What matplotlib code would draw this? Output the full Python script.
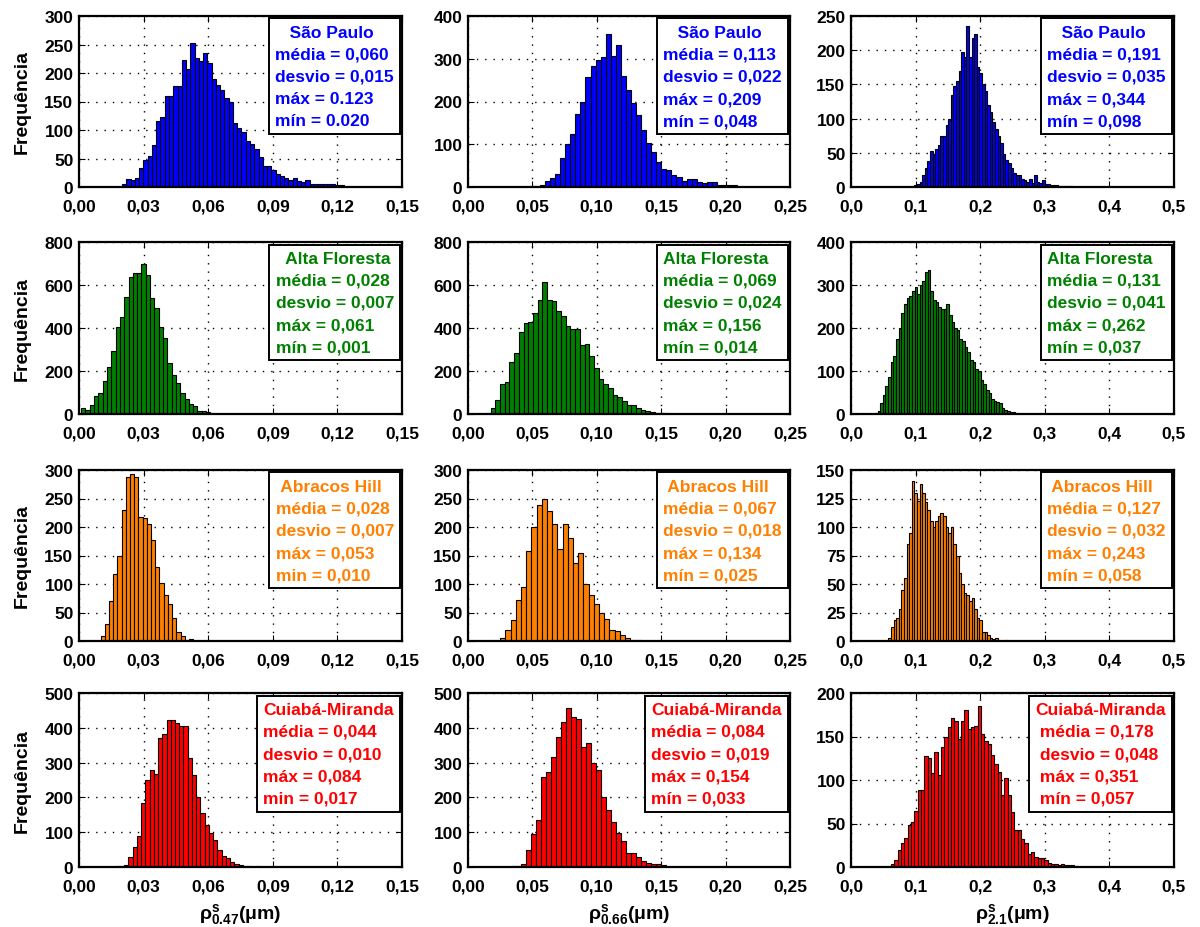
import numpy as np
import matplotlib
matplotlib.use('Agg')
import matplotlib.pyplot as plt

plt.rcParams['font.family'] = ['Liberation Sans', 'DejaVu Sans']
plt.rcParams['font.weight'] = 'bold'
plt.rcParams['mathtext.fontset'] = 'custom'
plt.rcParams['mathtext.rm'] = 'Liberation Sans:bold'
plt.rcParams['mathtext.it'] = 'Liberation Sans:bold'
plt.rcParams['mathtext.bf'] = 'Liberation Sans:bold'

# contagens por classe, do minimo ao maximo
sp_047 = [5, 14, 12, 16, 33, 47, 55, 73, 116, 122, 160, 160, 177, 177, 222, 207, 252, 227, 221,
          235, 217, 190, 179, 171, 156, 150, 112, 104, 96, 80, 75, 67, 52, 36, 36, 30, 23, 20, 15,
          12, 15, 10, 9, 12, 6, 6, 6, 6, 6, 6, 3, 3]
sp_066 = [2, 3, 5, 15, 20, 30, 67, 100, 125, 170, 200, 257, 282, 298, 303, 357, 306, 331, 259,
          227, 196, 169, 133, 102, 81, 59, 42, 39, 27, 24, 13, 19, 19, 12, 9, 12, 12, 5, 4, 4, 4]
sp_21 = [3, 5, 8, 18, 28, 38, 53, 48, 55, 62, 75, 75, 90, 100, 135, 148, 155, 170, 198, 190, 235,
         190, 218, 223, 175, 167, 150, 140, 120, 110, 95, 85, 75, 65, 48, 40, 35, 28, 20, 17, 17,
         12, 10, 8, 12, 6, 17, 8, 6, 10, 5, 5, 3, 3, 3, 2, 2, 2, 1, 1, 1]

af_047 = [28, 20, 40, 85, 100, 155, 220, 295, 405, 450, 545, 635, 655, 655, 700, 645, 540, 495,
          405, 355, 235, 180, 145, 100, 70, 45, 35, 15, 15, 8]
af_066 = [5, 30, 65, 140, 150, 240, 285, 380, 425, 430, 470, 530, 615, 530, 525, 480, 455, 410,
          395, 395, 320, 325, 270, 215, 165, 140, 120, 90, 80, 60, 40, 40, 30, 20, 15, 8, 5, 5, 3]
af_21 = [3, 8, 25, 45, 65, 85, 120, 135, 175, 200, 235, 255, 270, 275, 285, 295, 280, 300, 310,
         330, 335, 285, 265, 260, 250, 245, 245, 255, 230, 215, 200, 195, 175, 170, 155, 145, 125,
         120, 105, 100, 80, 70, 55, 50, 35, 30, 28, 25, 15, 10, 8, 5, 4, 2, 1]

ah_047 = [8, 30, 70, 117, 150, 230, 287, 293, 287, 218, 215, 205, 178, 130, 102, 80, 65, 40, 15,
          8, 2, 3]
ah_066 = [5, 20, 37, 72, 95, 158, 200, 238, 250, 228, 205, 162, 205, 180, 137, 155, 100, 80, 65,
          50, 38, 20, 18, 10, 5, 2, 2]
ah_21 = [3, 12, 18, 20, 28, 45, 55, 85, 95, 140, 130, 123, 138, 130, 122, 115, 105, 100, 105,
         110, 112, 110, 100, 95, 100, 85, 75, 60, 50, 42, 40, 35, 38, 28, 20, 18, 8, 8, 5, 3, 2,
         3, 0, 0, 0, 1]

cm_047 = [3, 3, 5, 30, 58, 88, 185, 250, 280, 268, 370, 382, 423, 423, 413, 405, 405, 312, 265,
          200, 155, 120, 98, 78, 50, 33, 25, 15, 8, 5, 3, 3, 0, 3]
cm_066 = [3, 3, 8, 50, 95, 135, 258, 273, 315, 375, 418, 458, 430, 424, 345, 357, 300, 278, 200,
          163, 128, 98, 75, 40, 40, 28, 18, 12, 8, 10, 5]
cm_21 = [1, 3, 8, 20, 28, 33, 48, 52, 64, 88, 88, 128, 125, 108, 132, 106, 138, 150, 161, 171,
         168, 147, 168, 181, 159, 161, 162, 185, 153, 145, 141, 129, 118, 109, 83, 102, 83, 63, 42,
         42, 32, 28, 15, 17, 11, 10, 10, 8, 5, 4, 3, 2, 3, 2, 2, 2, 1]

stations = ['São Paulo', 'Alta Floresta', 'Abracos Hill', 'Cuiabá-Miranda']
colors = ['#0000FF', '#008000', '#FF8000', '#FF0000']
counts = [[sp_047, sp_066, sp_21],
          [af_047, af_066, af_21],
          [ah_047, ah_066, ah_21],
          [cm_047, cm_066, cm_21]]

# estatisticas: media, desvio, max, min
stats = [[('0,060', '0,015', '0.123', '0.020'), ('0,113', '0,022', '0,209', '0,048'), ('0,191', '0,035', '0,344', '0,098')],
         [('0,028', '0,007', '0,061', '0,001'), ('0,069', '0,024', '0,156', '0,014'), ('0,131', '0,041', '0,262', '0,037')],
         [('0,028', '0,007', '0,053', '0,010'), ('0,067', '0,018', '0,134', '0,025'), ('0,127', '0,032', '0,243', '0,058')],
         [('0,044', '0,010', '0,084', '0,017'), ('0,084', '0,019', '0,154', '0,033'), ('0,178', '0,048', '0,351', '0,057')]]
min_labels = [['mín', 'mín', 'mín'], ['mín', 'mín', 'mín'], ['min', 'mín', 'mín'], ['min', 'mín', 'mín']]
name_prefix = [['   ', '   ', '   '], ['  ', '', ''], [' ', ' ', ' '], ['', '', '']]
line_prefix = [['', '', ''], ['', '', ''], ['', '', ''], ['', '', ' ']]

x_ticks = [np.arange(0, 0.151, 0.03), np.arange(0, 0.251, 0.05), np.arange(0, 0.51, 0.1)]
x_fmt = ['{:.2f}', '{:.2f}', '{:.1f}']
y_max = [[300, 400, 250], [800, 800, 400], [300, 300, 150], [500, 500, 200]]
y_step = [[50, 100, 50], [200, 200, 100], [50, 50, 25], [100, 100, 50]]
x_labels = [r'$\rho^{s}_{0.47}$(μm)', r'$\rho^{s}_{0.66}$(μm)', r'$\rho^{s}_{2.1}$(μm)']

col_px = [(79, 402), (468, 790), (851, 1174)]
row_px = [(17, 188), (243, 415), (471, 642), (694, 868)]
W, H = 1200, 928

fig = plt.figure(figsize=(12, 9.28), dpi=100)

for i in range(4):
    for j in range(3):
        l, r = col_px[j]
        t, b = row_px[i]
        ax = fig.add_axes([l / W, 1 - b / H, (r - l) / W, (b - t) / H])
        c = counts[i][j]
        vmin = float(stats[i][j][3].replace(',', '.'))
        vmax = float(stats[i][j][2].replace(',', '.'))
        edges = np.linspace(vmin, vmax, len(c) + 1)
        ax.bar(edges[:-1], c, width=edges[1] - edges[0], align='edge',
               color=colors[i], edgecolor='black', linewidth=0.8)
        ax.set_axisbelow(True)
        ax.grid(True, color='black', linestyle=(0, (1, 5)), linewidth=1.0)
        ax.set_xlim(x_ticks[j][0], x_ticks[j][-1])
        ax.set_ylim(0, y_max[i][j])
        ax.set_xticks(x_ticks[j])
        ax.set_xticklabels([x_fmt[j].format(v).replace('.', ',') for v in x_ticks[j]])
        ax.set_yticks(np.arange(0, y_max[i][j] + 1, y_step[i][j]))
        ax.tick_params(direction='in', top=True, right=True, length=4, labelsize=12.5)
        ax.tick_params(axis='x', pad=8)
        ax.tick_params(axis='y', pad=4)
        for lab in ax.get_xticklabels() + ax.get_yticklabels():
            lab.set_fontweight('bold')
        for s in ax.spines.values():
            s.set_linewidth(1.6)

        m, d, mx, mn = stats[i][j]
        p = line_prefix[i][j]
        txt = (name_prefix[i][j] + stations[i] + '\n'
               + p + 'média = ' + m + '\n'
               + p + 'desvio = ' + d + '\n'
               + p + 'máx = ' + mx + '\n'
               + p + min_labels[i][j] + ' = ' + mn)
        ax.text(0.975, 0.95, txt, transform=ax.transAxes, ha='right', va='top',
                multialignment='left', color=colors[i], fontsize=12.5, fontweight='bold',
                linespacing=1.6,
                bbox=dict(boxstyle='square,pad=0.35', facecolor='white', edgecolor='black', linewidth=1.4))

        if j == 0:
            ax.set_ylabel('Frequência', fontsize=14, fontweight='bold', labelpad=10)
        if i == 3:
            ax.set_xlabel(x_labels[j], fontsize=14, fontweight='bold', labelpad=6)

fig.savefig('out.png', dpi=100)
